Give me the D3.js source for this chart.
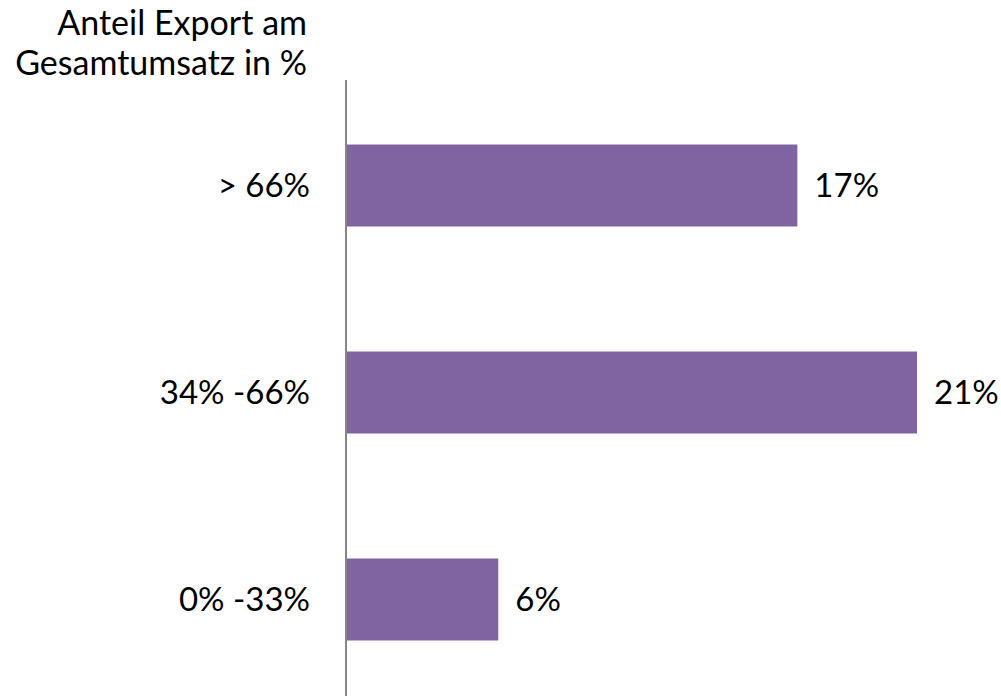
<!doctype html>
<html>
<head>
<meta charset="utf-8">
<title>Anteil Export am Gesamtumsatz</title>
<script src="https://d3js.org/d3.v7.min.js"></script>
<style>
  body { margin: 0; background: #fff; }
  svg { display: block; font-family: Lato, "Open Sans", sans-serif; }
</style>
</head>
<body>
<script>
// data
var categories = ["> 66%", "34% -66%", "0% -33%"];
var values = [16.6, 21.0, 5.6];
var titleLines = ["Anteil Export am", "Gesamtumsatz in %"];

var width = 1001, height = 698;

var svg = d3.select("body").append("svg")
  .attr("width", width).attr("height", height);

var x = d3.scaleLinear().domain([0, 21]).range([346, 917]);
var y = d3.scaleBand().domain(categories).range([82, 703])
  .paddingInner(0.604).paddingOuter(0.302);

// title
svg.append("g").selectAll("text")
  .data(titleLines)
  .enter().append("text")
  .attr("x", 307)
  .attr("y", function(d, i) { return 35 + i * 40; })
  .attr("text-anchor", "end")
  .attr("font-size", 34)
  .attr("fill", "#000")
  .text(function(d) { return d; });

// bars
svg.append("g").selectAll("rect")
  .data(values)
  .enter().append("rect")
  .attr("x", x(0))
  .attr("y", function(d, i) { return y(categories[i]); })
  .attr("width", function(d) { return x(d) - x(0); })
  .attr("height", y.bandwidth())
  .attr("fill", "#8064a2");

// value labels
svg.append("g").selectAll("text")
  .data(values)
  .enter().append("text")
  .attr("x", function(d) { return x(d) + 17; })
  .attr("y", function(d, i) { return y(categories[i]) + y.bandwidth() / 2; })
  .attr("dy", "0.36em")
  .attr("font-size", 33)
  .attr("fill", "#000")
  .text(function(d) { return Math.round(d) + "%"; });

// category axis
var yaxis = svg.append("g")
  .attr("transform", "translate(" + x(0) + ",0)")
  .call(d3.axisLeft(y).tickSize(0).tickPadding(36));
yaxis.select(".domain").remove();
yaxis.selectAll("text")
  .attr("font-family", "Lato, 'Open Sans', sans-serif")
  .attr("font-size", 33)
  .attr("fill", "#000")
  .attr("dy", "0.36em");

svg.append("line")
  .attr("x1", x(0)).attr("x2", x(0))
  .attr("y1", 80).attr("y2", 696)
  .attr("stroke", "#868686")
  .attr("stroke-width", 2);
</script>
</body>
</html>
